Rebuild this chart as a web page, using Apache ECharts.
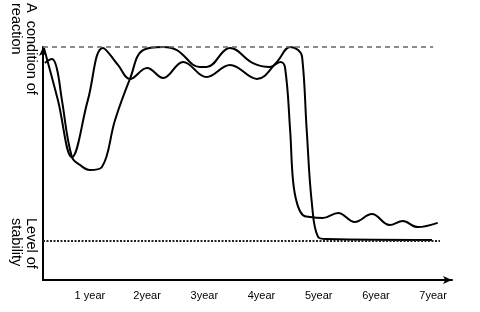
<!DOCTYPE html>
<html><head><meta charset="utf-8">
<script src="https://cdn.jsdelivr.net/npm/echarts@6/dist/echarts.min.js"></script>
<style>html,body{margin:0;padding:0;background:#fff}#c{width:480px;height:312px}</style>
</head><body><div id="c"></div>
<script>
// tick labels at years 1..7
var tickYears = [1, 2, 3, 4, 5, 6, 7];
var tickLabels = ['1 year', '2year', '3year', '4year', '5year', '6year', '7year'];
// reference levels
var reactionLevel = 100;
var stabilityLevel = 17;
var refLineEnd = { reaction: 7.0, stability: 7.12 };
// curve A: [year, level]
var curveA = [
  [0.196, 99.6], [0.44, 77.3], [0.685, 52.8], [0.965, 77.3], [1.227, 99.6],
  [1.49, 92.3], [1.70, 86.3], [2.0, 91.0], [2.28, 86.7], [2.63, 93.6],
  [3.04, 87.1], [3.45, 92.3], [3.92, 86.3], [4.27, 93.6], [4.50, 100],
  [4.64, 98.7], [4.71, 95.7], [4.79, 64.4], [4.88, 33.0], [4.99, 18.5],
  [5.14, 17.6], [6.98, 17.2]
];
// curve B: [year, level]
var curveB = [
  [0.213, 93.1], [0.336, 94.8], [0.42, 91.0], [0.51, 77.3], [0.685, 52.8],
  [0.825, 49.4], [1.0, 47.2], [1.21, 48.5], [1.44, 68.7], [1.70, 86.3],
  [1.93, 98.7], [2.28, 100], [2.52, 98.7], [2.92, 91.4], [3.04, 91.4],
  [3.45, 99.6], [3.85, 93.1], [4.15, 91.4], [4.33, 93.6], [4.41, 91.4],
  [4.50, 64.4], [4.55, 42.9], [4.62, 33.0], [4.72, 27.9], [4.85, 27.0],
  [5.07, 26.6], [5.34, 28.8], [5.63, 24.9], [5.93, 28.3], [6.24, 23.6],
  [6.47, 25.3], [6.73, 22.7], [7.08, 24.5]
];

var chart = echarts.init(document.getElementById('c'), null, { renderer: 'canvas' });
var font = '"Liberation Sans", Arial, sans-serif';
chart.setOption({
  animation: false,
  backgroundColor: '#fff',
  grid: { left: 43, right: 28, top: 47, bottom: 32 },
  xAxis: {
    type: 'value', min: 0.18, max: 7.33,
    axisLine: { show: true, lineStyle: { color: '#000', width: 2 }, symbol: ['none', 'arrow'], symbolSize: [6, 9] },
    axisTick: { show: false },
    splitLine: { show: false },
    axisLabel: {
      customValues: tickYears,
      formatter: function (v) { var i = tickYears.indexOf(Math.round(v)); return i >= 0 ? tickLabels[i] : ''; },
      color: '#000', fontSize: 11, fontFamily: font, margin: 10
    }
  },
  yAxis: {
    type: 'value', min: 0, max: 100,
    axisLine: { show: true, lineStyle: { color: '#000', width: 2 }, symbol: ['none', 'arrow'], symbolSize: [6, 9] },
    axisTick: { show: false }, axisLabel: { show: false }, splitLine: { show: false }
  },
  series: [
    {
      type: 'line', data: curveA, smooth: 0.4, showSymbol: false, symbol: 'none',
      lineStyle: { color: '#000', width: 2 },
      markLine: {
        silent: true, symbol: 'none', label: { show: false },
        data: [
          [{ coord: [0.18, reactionLevel], lineStyle: { type: [5, 4], color: '#666', width: 1.5 } }, { coord: [refLineEnd.reaction, reactionLevel] }],
          [{ coord: [0.18, stabilityLevel], lineStyle: { type: [2, 1.5], color: '#222', width: 2 } }, { coord: [refLineEnd.stability, stabilityLevel] }]
        ]
      }
    },
    {
      type: 'line', data: curveB, smooth: 0.4, showSymbol: false, symbol: 'none',
      lineStyle: { color: '#000', width: 2 }
    }
  ],
  graphic: [
    { type: 'text', x: 38, y: 3, rotation: -Math.PI / 2, style: { text: 'A  condition of\nreaction', fill: '#000', font: '14.5px ' + font, textAlign: 'left', textVerticalAlign: 'top', lineHeight: 15 } },
    { type: 'text', x: 38, y: 218, rotation: -Math.PI / 2, style: { text: 'Level of\nstability', fill: '#000', font: '14.5px ' + font, textAlign: 'left', textVerticalAlign: 'top', lineHeight: 15 } }
  ]
});
</script></body></html>
